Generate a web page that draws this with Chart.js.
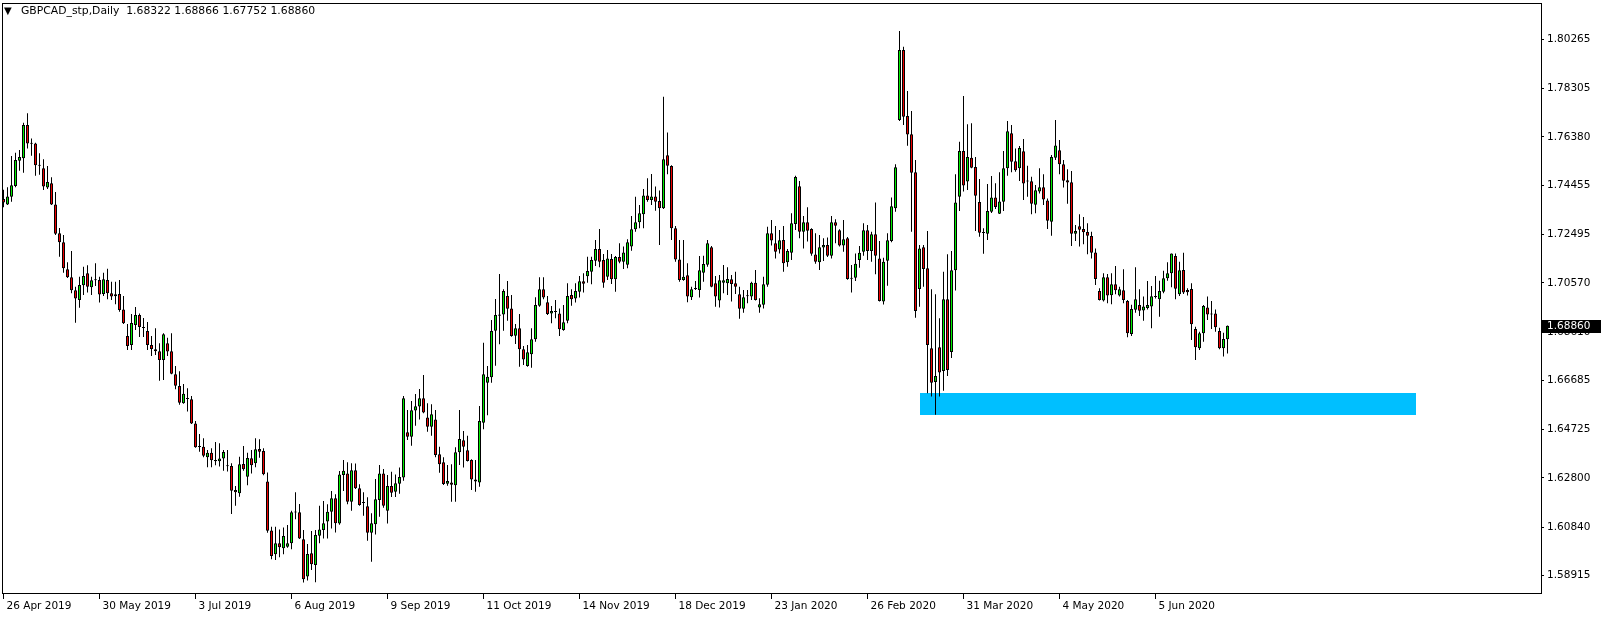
<!DOCTYPE html>
<html>
<head>
<meta charset="utf-8">
<title>GBPCAD_stp,Daily</title>
<script src="https://cdn.jsdelivr.net/npm/chart.js@4.4.1/dist/chart.umd.min.js"></script>
<style>
    html, body { margin: 0; padding: 0; background: #fff; }
    #wrap { position: relative; width: 1604px; height: 620px; }
    #chart { display: block; }
    .caption { position: absolute; top: 4px; font-family: "DejaVu Sans", sans-serif; line-height: 14px; white-space: pre; color: #000; }
    #tri { left: 4px; font-size: 10px; }
    #info { left: 21px; font-size: 10.8px; }
</style>
</head>
<body>
<div id="wrap">
    <canvas id="chart" width="1604" height="620"></canvas>
    <span class="caption" id="tri">▼</span>
    <span class="caption" id="info">GBPCAD_stp,Daily  1.68322 1.68866 1.67752 1.68860</span>
</div>
<script>
/* ---------------------------------------------------
   GBPCAD daily candles (26 Apr 2019 onwards)
---------------------------------------------------*/

const openPrices = [
    1.7391,1.7369,1.7400,1.7442,1.7543,1.7553,1.7685,1.7612,1.7612,1.7525,
    1.7513,1.7436,1.7453,1.7369,1.7254,1.7218,1.7111,1.7079,1.7027,1.6988,
    1.7047,1.7095,1.7039,1.7067,1.7068,1.7012,1.7068,1.7015,1.7011,1.7012,
    1.6951,1.6845,1.6809,1.6889,1.6929,1.6881,1.6865,1.6809,1.6792,1.6784,
    1.6750,1.6816,1.6784,1.6693,1.6646,1.6577,1.6595,1.6593,1.6497,1.6404,
    1.6404,1.6362,1.6380,1.6351,1.6346,1.6357,1.6327,1.6327,1.6232,1.6219,
    1.6335,1.6285,1.6358,1.6338,1.6395,1.6387,1.6266,1.6071,1.5976,1.6020,
    1.6000,1.6006,1.6020,1.6143,1.6143,1.6036,1.5887,1.5980,1.5933,1.6050,
    1.6073,1.6106,1.6145,1.6199,1.6098,1.6292,1.6298,1.6185,1.6310,1.6239,
    1.6183,1.6167,1.6062,1.6095,1.6192,1.6298,1.6149,1.6248,1.6225,1.6257,
    1.6282,1.6462,1.6444,1.6548,1.6564,1.6597,1.6521,1.6484,1.6513,1.6374,
    1.6342,1.6257,1.6262,1.6251,1.6382,1.6430,1.6390,1.6351,1.6274,1.6262,
    1.6500,1.6659,1.6681,1.6866,1.6931,1.6931,1.7004,1.6955,1.6846,1.6876,
    1.6792,1.6726,1.6772,1.6832,1.6966,1.7031,1.6979,1.6935,1.6943,1.6935,
    1.6869,1.6906,1.7008,1.6994,1.7021,1.7063,1.7083,1.7101,1.7145,1.7192,
    1.7148,1.7081,1.7152,1.7071,1.7160,1.7141,1.7129,1.7201,1.7270,1.7298,
    1.7330,1.7405,1.7387,1.7401,1.7383,1.7354,1.7565,1.7522,1.7274,1.7150,
    1.7068,1.7087,1.6999,1.7035,1.7028,1.7097,1.7129,1.7198,1.7055,1.6986,
    1.7057,1.7055,1.7071,1.7055,1.7011,1.6954,1.7006,1.7002,1.7057,1.6959,
    1.6970,1.7049,1.7254,1.7214,1.7190,1.7227,1.7139,1.7177,1.7291,1.7441,
    1.7260,1.7298,1.7271,1.7170,1.7139,1.7197,1.7207,1.7165,1.7298,1.7266,
    1.7205,1.7234,1.7076,1.7077,1.7148,1.7181,1.7266,1.7184,1.7250,1.7154,
    1.6982,1.7145,1.7223,1.7354,1.7705,1.7984,1.7721,1.7648,1.7497,1.7032,
    1.7198,1.7115,1.6796,1.6662,1.6800,1.6706,1.6991,1.6781,1.7107,1.7400,
    1.7582,1.7460,1.7555,1.7518,1.7379,1.7258,1.7252,1.7340,1.7397,1.7332,
    1.7380,1.7513,1.7652,1.7541,1.7513,1.7581,1.7462,1.7461,1.7368,1.7420,
    1.7437,1.7385,1.7300,1.7555,1.7585,1.7529,1.7465,1.7457,1.7252,1.7282,
    1.7271,1.7259,1.7243,1.7178,1.7024,1.6986,1.7079,1.7007,1.7051,1.7006,
    1.7027,1.6984,1.6853,1.6950,1.6969,1.6947,1.6957,1.6963,1.7003,1.6991,
    1.7021,1.7075,1.7095,1.7164,1.7011,1.7108,1.7028,1.7032,1.6873,1.6796,
    1.6856,1.6959,1.6934,1.6935,1.6865,1.6796,1.68322
];

const highPrices = [
    1.7427,1.7437,1.7562,1.7575,1.7586,1.7694,1.7732,1.7632,1.7615,1.7573,
    1.7549,1.7522,1.7477,1.7418,1.7275,1.7247,1.7139,1.7184,1.7041,1.7081,
    1.7121,1.7127,1.7081,1.7135,1.7081,1.7097,1.7113,1.7061,1.7061,1.7068,
    1.7004,1.6893,1.6933,1.6961,1.6935,1.6917,1.6901,1.6845,1.6876,1.6816,
    1.6856,1.6838,1.6856,1.6726,1.6705,1.6654,1.6637,1.6606,1.6507,1.6455,
    1.6438,1.6391,1.6398,1.6423,1.6418,1.6391,1.6391,1.6338,1.6248,1.6364,
    1.6407,1.6380,1.6391,1.6438,1.6434,1.6398,1.6302,1.6086,1.6086,1.6075,
    1.6083,1.6092,1.6149,1.6223,1.6176,1.6073,1.6017,1.6069,1.6073,1.6169,
    1.6188,1.6175,1.6228,1.6215,1.6308,1.6351,1.6342,1.6338,1.6337,1.6255,
    1.6223,1.6203,1.6139,1.6276,1.6331,1.6315,1.6292,1.6305,1.6294,1.6321,
    1.6606,1.6550,1.6586,1.6614,1.6634,1.6690,1.6577,1.6573,1.6550,1.6404,
    1.6362,1.6331,1.6334,1.6402,1.6550,1.6467,1.6448,1.6354,1.6351,1.6566,
    1.6818,1.6726,1.6909,1.6992,1.7092,1.7031,1.7064,1.7008,1.6893,1.6933,
    1.6805,1.6809,1.6876,1.6999,1.7079,1.7079,1.7004,1.6965,1.6988,1.6955,
    1.6969,1.7055,1.7031,1.7055,1.7084,1.7095,1.7161,1.7161,1.7227,1.7271,
    1.7172,1.7188,1.7172,1.7164,1.7214,1.7201,1.7230,1.7323,1.7400,1.7367,
    1.7430,1.7473,1.7490,1.7440,1.7424,1.7798,1.7655,1.7525,1.7283,1.7227,
    1.7227,1.7135,1.7041,1.7064,1.7164,1.7165,1.7227,1.7203,1.7084,1.7088,
    1.7128,1.7119,1.7088,1.7101,1.7041,1.7028,1.7028,1.7061,1.7108,1.6995,
    1.7081,1.7280,1.7307,1.7283,1.7267,1.7283,1.7192,1.7334,1.7483,1.7462,
    1.7323,1.7358,1.7274,1.7254,1.7247,1.7234,1.7237,1.7323,1.7310,1.7270,
    1.7307,1.7239,1.7128,1.7174,1.7203,1.7294,1.7287,1.7260,1.7377,1.7223,
    1.7157,1.7254,1.7397,1.7529,1.8060,1.7997,1.7821,1.7741,1.7546,1.7207,
    1.7207,1.7263,1.7031,1.7011,1.6916,1.7101,1.7171,1.7184,1.7489,1.7619,
    1.7801,1.7688,1.7692,1.7558,1.7470,1.7274,1.7450,1.7482,1.7453,1.7497,
    1.7582,1.7701,1.7685,1.7592,1.7602,1.7630,1.7523,1.7479,1.7446,1.7513,
    1.7489,1.7393,1.7566,1.7705,1.7626,1.7546,1.7509,1.7502,1.7287,1.7330,
    1.7319,1.7294,1.7260,1.7194,1.7035,1.7095,1.7092,1.7095,1.7124,1.7041,
    1.7111,1.6988,1.6970,1.7119,1.7031,1.7002,1.7064,1.7044,1.7084,1.7065,
    1.7105,1.7139,1.7174,1.7174,1.7141,1.7177,1.7035,1.7055,1.6882,1.6862,
    1.6969,1.7002,1.6984,1.6951,1.6878,1.6858,1.68866
];

const lowPrices = [
    1.7358,1.7367,1.7380,1.7437,1.7503,1.7495,1.7592,1.7563,1.7483,1.7487,
    1.7426,1.7430,1.7367,1.7247,1.7161,1.7097,1.7076,1.7015,1.6898,1.6958,
    1.7008,1.7018,1.7008,1.7044,1.6978,1.7004,1.6991,1.6988,1.6972,1.6942,
    1.6893,1.6789,1.6789,1.6869,1.6841,1.6841,1.6789,1.6765,1.6769,1.6667,
    1.6670,1.6765,1.6693,1.6633,1.6571,1.6575,1.6544,1.6495,1.6400,1.6384,
    1.6362,1.6322,1.6322,1.6330,1.6325,1.6309,1.6306,1.6136,1.6169,1.6205,
    1.6309,1.6251,1.6298,1.6322,1.6360,1.6291,1.6062,1.5956,1.5953,1.5964,
    1.5976,1.6002,1.5996,1.6115,1.6037,1.5864,1.5871,1.5913,1.5865,1.6020,
    1.6039,1.6039,1.6079,1.6063,1.6093,1.6228,1.6175,1.6149,1.6236,1.6169,
    1.6129,1.6030,1.5946,1.6055,1.6125,1.6161,1.6098,1.6204,1.6204,1.6217,
    1.6269,1.6431,1.6408,1.6488,1.6513,1.6537,1.6464,1.6448,1.6362,1.6301,
    1.6252,1.6249,1.6185,1.6185,1.6331,1.6321,1.6345,1.6232,1.6225,1.6245,
    1.6474,1.6530,1.6659,1.6727,1.6812,1.6866,1.6906,1.6842,1.6813,1.6723,
    1.6730,1.6723,1.6719,1.6822,1.6962,1.6991,1.6929,1.6896,1.6916,1.6845,
    1.6866,1.6896,1.6966,1.6978,1.6998,1.7018,1.7057,1.7051,1.7124,1.7119,
    1.7037,1.7068,1.7052,1.7021,1.7135,1.7112,1.7115,1.7185,1.7260,1.7274,
    1.7274,1.7380,1.7367,1.7344,1.7207,1.7351,1.7489,1.7227,1.7141,1.7061,
    1.7065,1.6979,1.6988,1.7028,1.6998,1.7061,1.7121,1.7039,1.6962,1.6959,
    1.7015,1.7008,1.6982,1.7012,1.6914,1.6938,1.6975,1.6988,1.6986,1.6938,
    1.6955,1.7041,1.7205,1.7154,1.7174,1.7101,1.7121,1.7148,1.7267,1.7234,
    1.7194,1.7221,1.7165,1.7133,1.7108,1.7144,1.7160,1.7154,1.7214,1.7201,
    1.7181,1.7069,1.7018,1.7064,1.7117,1.7165,1.7148,1.7141,1.7091,1.6982,
    1.6971,1.7045,1.7218,1.7340,1.7701,1.7685,1.7603,1.7260,1.6918,1.6962,
    1.7041,1.6617,1.6604,1.6531,1.6604,1.6627,1.6686,1.6757,1.7026,1.7343,
    1.7420,1.7426,1.7513,1.7263,1.7240,1.7173,1.7227,1.7335,1.7351,1.7331,
    1.7343,1.7483,1.7497,1.7499,1.7462,1.7387,1.7400,1.7330,1.7334,1.7413,
    1.7367,1.7271,1.7244,1.7546,1.7489,1.7436,1.7372,1.7203,1.7223,1.7201,
    1.7210,1.7171,1.7154,1.7048,1.6986,1.6982,1.6975,1.6972,1.7011,1.7002,
    1.6975,1.6840,1.6845,1.6938,1.6925,1.6906,1.6951,1.6876,1.6994,1.6922,
    1.7015,1.7065,1.7039,1.6991,1.7004,1.7012,1.7006,1.6829,1.6750,1.6789,
    1.6822,1.6909,1.6873,1.6862,1.6792,1.6763,1.67752
];

const closePrices = [
    1.7377,1.7401,1.7445,1.7546,1.7558,1.7685,1.7612,1.7611,1.7525,1.7523,
    1.7440,1.7458,1.7369,1.7252,1.7218,1.7115,1.7079,1.7027,1.6994,1.7048,
    1.7084,1.7041,1.7067,1.7068,1.7010,1.7071,1.7015,1.7002,1.7003,1.6949,
    1.6896,1.6805,1.6897,1.6929,1.6881,1.6877,1.6809,1.6793,1.6784,1.6750,
    1.6852,1.6783,1.6695,1.6647,1.6579,1.6615,1.6594,1.6497,1.6402,1.6403,
    1.6368,1.6380,1.6350,1.6346,1.6357,1.6383,1.6326,1.6229,1.6223,1.6334,
    1.6314,1.6359,1.6330,1.6394,1.6384,1.6295,1.6070,1.5969,1.6020,1.6004,
    1.6049,1.6020,1.6143,1.6142,1.6039,1.5876,1.5977,1.5936,1.6053,1.6075,
    1.6099,1.6145,1.6199,1.6099,1.6294,1.6309,1.6185,1.6310,1.6239,1.6172,
    1.6180,1.6062,1.6099,1.6195,1.6298,1.6169,1.6248,1.6221,1.6259,1.6284,
    1.6597,1.6444,1.6549,1.6565,1.6597,1.6540,1.6484,1.6533,1.6371,1.6334,
    1.6256,1.6268,1.6253,1.6382,1.6435,1.6404,1.6347,1.6274,1.6266,1.6507,
    1.6693,1.6683,1.6865,1.6929,1.6926,1.7024,1.6954,1.6845,1.6876,1.6792,
    1.6752,1.6780,1.6832,1.6969,1.7031,1.6998,1.6933,1.6945,1.6941,1.6872,
    1.6900,1.7004,1.6991,1.7024,1.7063,1.7053,1.7104,1.7148,1.7192,1.7141,
    1.7057,1.7154,1.7071,1.7160,1.7141,1.7178,1.7218,1.7270,1.7298,1.7334,
    1.7405,1.7387,1.7401,1.7380,1.7354,1.7549,1.7523,1.7274,1.7150,1.7068,
    1.7081,1.7002,1.7031,1.7032,1.7107,1.7132,1.7214,1.7041,1.7002,1.7067,
    1.7067,1.7072,1.7052,1.7041,1.6954,1.6999,1.7003,1.7057,1.6988,1.6972,
    1.7051,1.7254,1.7225,1.7181,1.7226,1.7135,1.7184,1.7294,1.7478,1.7260,
    1.7298,1.7264,1.7173,1.7141,1.7198,1.7207,1.7165,1.7298,1.7284,1.7205,
    1.7230,1.7072,1.7073,1.7133,1.7177,1.7266,1.7184,1.7250,1.7165,1.6984,
    1.7141,1.7226,1.7362,1.7517,1.7984,1.7718,1.7647,1.7495,1.6945,1.7194,
    1.7112,1.6809,1.6659,1.6686,1.6700,1.6991,1.6710,1.7107,1.7377,1.7582,
    1.7444,1.7558,1.7515,1.7404,1.7256,1.7255,1.7343,1.7397,1.7359,1.7381,
    1.7513,1.7660,1.7539,1.7505,1.7594,1.7452,1.7460,1.7372,1.7425,1.7437,
    1.7389,1.7304,1.7558,1.7604,1.7529,1.7463,1.7456,1.7252,1.7263,1.7268,
    1.7258,1.7244,1.7177,1.7072,1.6988,1.7079,1.7006,1.7051,1.7027,1.7031,
    1.6988,1.6856,1.6953,1.6991,1.6946,1.6963,1.6969,1.7003,1.7000,1.7024,
    1.7075,1.7095,1.7174,1.7033,1.7107,1.7018,1.7019,1.6892,1.6800,1.6856,
    1.6965,1.6931,1.6931,1.6880,1.6796,1.6833,1.68860
];

/* date labels on the time axis, by bar number */
const dateTickBars = [0, 24, 48, 72, 96, 120, 144, 168, 192, 216, 240, 264, 288];
const dateTickLabels = [
    "26 Apr 2019", "30 May 2019", "3 Jul 2019", "6 Aug 2019", "9 Sep 2019",
    "11 Oct 2019", "14 Nov 2019", "18 Dec 2019", "23 Jan 2020", "26 Feb 2020",
    "31 Mar 2020", "4 May 2020", "5 Jun 2020"
];

/* price scale labels */
const priceTicks = [
    1.80265, 1.78305, 1.76380, 1.74455, 1.72495, 1.70570,
    1.68610, 1.66685, 1.64725, 1.62800, 1.60840, 1.58915
];

/* support zone (bars and prices) */
const zoneBars = [229, 353];
const zonePrices = [1.6531, 1.6620];

const lastClose = 1.68860;

const BULL = "#00ee00";
const BEAR = "#ee0000";
const ZONE = "#00bfff";
const FONT = "'DejaVu Sans', sans-serif";


/* ---------------------------------------------------
   Plugins: zone box, chart frame, last price tag
---------------------------------------------------*/

const zonePlugin = {
    id: "zone",
    beforeDatasetsDraw(chart) {
        const { ctx, scales } = chart;
        const x1 = Math.round(scales.x.getPixelForValue(zoneBars[0]));
        const x2 = Math.round(scales.x.getPixelForValue(zoneBars[1]));
        const y1 = Math.round(scales.y.getPixelForValue(zonePrices[1]));
        const y2 = Math.round(scales.y.getPixelForValue(zonePrices[0]));
        ctx.save();
        ctx.fillStyle = ZONE;
        ctx.fillRect(x1, y1, x2 - x1, y2 - y1);
        ctx.restore();
    }
};

const framePlugin = {
    id: "frame",
    afterDraw(chart) {
        const { ctx, chartArea } = chart;
        ctx.save();
        ctx.strokeStyle = "#000";
        ctx.lineWidth = 1;
        ctx.strokeRect(chartArea.left + 0.5, chartArea.top + 0.5,
            chartArea.right - chartArea.left, chartArea.bottom - chartArea.top);
        ctx.restore();
    }
};

const priceTagPlugin = {
    id: "priceTag",
    afterDraw(chart) {
        const { ctx, chartArea, scales } = chart;
        const y = Math.round(scales.y.getPixelForValue(lastClose));
        ctx.save();
        ctx.fillStyle = "#000";
        ctx.fillRect(chartArea.right + 1, y - 6, 59, 13);
        ctx.fillStyle = "#fff";
        ctx.font = "10.5px " + FONT;
        ctx.textBaseline = "middle";
        ctx.textAlign = "left";
        ctx.fillText(lastClose.toFixed(5), chartArea.right + 6, y + 0.5);
        ctx.restore();
    }
};


/* ---------------------------------------------------
   Candlestick chart from floating bars
---------------------------------------------------*/

function renderChart() {

    const bars = openPrices.map((_, i) => i);

    const wickData = bars.map(i => ({ x: i, y: [lowPrices[i], highPrices[i]] }));
    const bodyData = bars.map(i => ({ x: i, y: [openPrices[i], closePrices[i]] }));
    const bodyColors = bars.map(i => closePrices[i] >= openPrices[i] ? BULL : BEAR);

    Chart.defaults.font.family = FONT;
    Chart.defaults.font.size = 10.5;
    Chart.defaults.color = "#000";

    new Chart(document.getElementById("chart"), {
        type: "bar",
        data: {
            datasets: [
                {
                    label: "Body",
                    data: bodyData,
                    backgroundColor: bodyColors,
                    borderColor: "#000",
                    borderWidth: 1,
                    borderSkipped: false,
                    barThickness: 3,
                    minBarLength: 1,
                    inflateAmount: 0,
                    grouped: false,
                    order: 0
                },
                {
                    label: "Wick",
                    data: wickData,
                    backgroundColor: "#000",
                    borderWidth: 0,
                    barThickness: 1,
                    inflateAmount: 0,
                    grouped: false,
                    order: 1
                }
            ]
        },
        options: {
            responsive: false,
            animation: false,
            devicePixelRatio: 1,
            layout: { padding: { left: 2, top: 3, right: 0, bottom: 0 } },
            plugins: {
                legend: { display: false },
                tooltip: { enabled: false }
            },
            scales: {
                x: {
                    type: "linear",
                    min: -0.375,
                    max: 384.375,
                    bounds: "data",
                    offset: false,
                    grid: { drawOnChartArea: false, drawTicks: true, tickLength: 6, color: "#000", offset: false },
                    border: { display: true, color: "#000" },
                    ticks: {
                        autoSkip: false,
                        maxRotation: 0,
                        align: "start",
                        labelOffset: 3,
                        padding: 1,
                        callback: value => dateTickLabels[dateTickBars.indexOf(value)]
                    },
                    afterBuildTicks: scale => {
                        scale.ticks = dateTickBars.map(v => ({ value: v }));
                    },
                    afterFit: scale => {
                        scale.height = 27;
                        scale.paddingLeft = 0;
                        scale.paddingRight = 0;
                    }
                },
                y: {
                    position: "right",
                    min: 1.58217,
                    max: 1.81711,
                    grid: { drawOnChartArea: false, drawTicks: true, tickLength: 3, color: "#000" },
                    border: { display: true, color: "#000" },
                    ticks: {
                        autoSkip: false,
                        padding: 3,
                        callback: value => Number(value).toFixed(5)
                    },
                    afterBuildTicks: scale => {
                        scale.ticks = priceTicks.map(v => ({ value: v }));
                    },
                    afterFit: scale => {
                        scale.width = 63;
                        scale.paddingTop = 0;
                        scale.paddingBottom = 0;
                    }
                }
            }
        },
        plugins: [zonePlugin, framePlugin, priceTagPlugin]
    });

}

renderChart();
</script>
</body>
</html>
